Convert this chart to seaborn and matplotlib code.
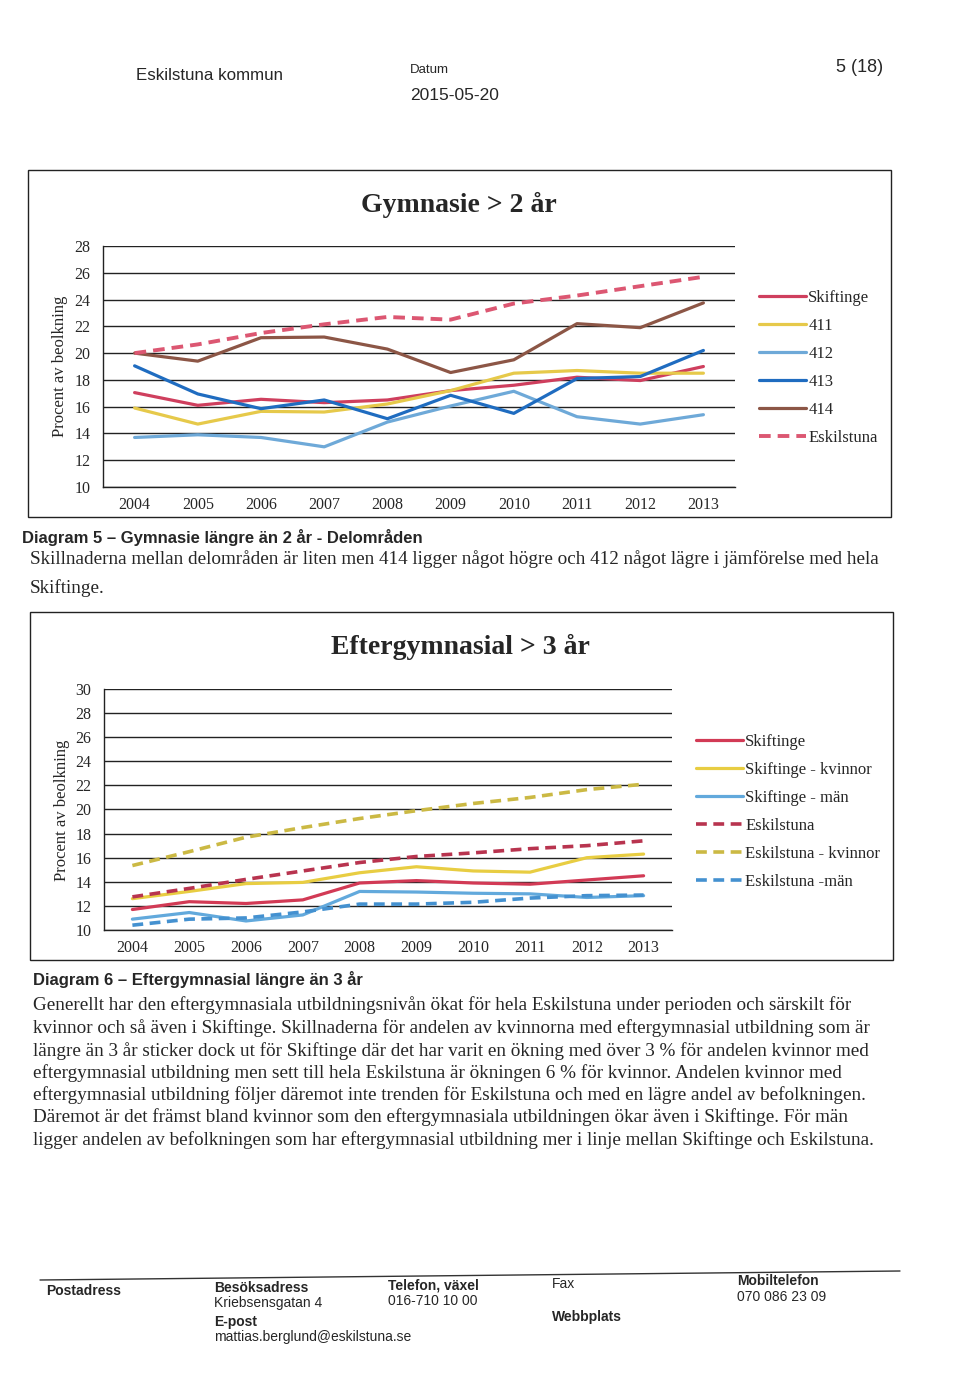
import numpy as np
import pandas as pd
import matplotlib
matplotlib.use("Agg")
import matplotlib.pyplot as plt
import seaborn as sns
from matplotlib import font_manager
from matplotlib.lines import Line2D
from matplotlib.patches import Rectangle

# Data
years = ["2004", "2005", "2006", "2007", "2008", "2009", "2010", "2011", "2012", "2013"]

# Diagram 5 - Gymnasie > 2 år
gy_skiftinge = [17.05, 16.1, 16.55, 16.3, 16.5, 17.2, 17.6, 18.2, 17.95, 19.0]
gy_411 = [15.9, 14.7, 15.65, 15.6, 16.2, 17.2, 18.5, 18.7, 18.5, 18.5]
gy_412 = [13.7, 13.9, 13.7, 13.0, 14.85, 16.05, 17.15, 15.25, 14.7, 15.4]
gy_413 = [19.05, 16.95, 15.85, 16.5, 15.1, 16.85, 15.5, 18.1, 18.25, 20.2]
gy_414 = [20.0, 19.4, 21.15, 21.2, 20.3, 18.55, 19.5, 22.2, 21.9, 23.75]
gy_eskilstuna = [20.0, 20.65, 21.5, 22.15, 22.7, 22.5, 23.7, 24.3, 25.0, 25.7]

# Diagram 6 - Eftergymnasial > 3 år
eg_skiftinge = [11.7, 12.35, 12.2, 12.5, 13.9, 14.1, 13.9, 13.8, 14.15, 14.5]
eg_skiftinge_kv = [12.6, 13.2, 13.85, 13.95, 14.75, 15.25, 14.9, 14.8, 16.0, 16.3]
eg_skiftinge_man = [10.9, 11.45, 10.75, 11.25, 13.2, 13.15, 13.05, 13.0, 12.7, 12.85]
eg_eskilstuna = [12.75, 13.45, 14.2, 14.9, 15.6, 16.1, 16.4, 16.75, 17.0, 17.4]
eg_eskilstuna_kv = [15.35, 16.5, 17.7, 18.5, 19.25, 19.9, 20.5, 21.0, 21.65, 22.1]
eg_eskilstuna_man = [10.4, 10.9, 11.0, 11.5, 12.15, 12.15, 12.3, 12.65, 12.85, 12.9]

sns.set_theme(style="white")
names = {f.name for f in font_manager.fontManager.ttflist}
SERIF = "Liberation Serif"
SANS = "Liberation Sans Narrow" if "Liberation Sans Narrow" in names else "Liberation Sans"
plt.rcParams["font.family"] = [SERIF, "DejaVu Serif"]

W, H = 960, 1384
fig = plt.figure(figsize=(9.6, 13.84), dpi=100)
fig.patch.set_facecolor("white")


def fx(x):
    return x / W


def fy(y):
    return 1 - y / H


def axes_px(left, top, right, bottom):
    return fig.add_axes([fx(left), fy(bottom), (right - left) / W, (bottom - top) / H])


def box(left, top, right, bottom):
    fig.patches.append(Rectangle((fx(left), fy(bottom)), (right - left) / W, (bottom - top) / H,
                                 transform=fig.transFigure, fill=False, edgecolor="#222222", lw=1.0))


def style_axes(ax, ymax):
    ax.set_xlim(-0.5, len(years) - 0.5)
    ax.set_ylim(10, ymax)
    ax.set_yticks(np.arange(10, ymax + 1, 2))
    ax.set_xticks(range(len(years)))
    ax.set_xticklabels(years)
    ax.yaxis.grid(True, color="#222222", lw=1.0)
    ax.xaxis.grid(False)
    for s in ["top", "right"]:
        ax.spines[s].set_visible(False)
    for s in ["left", "bottom"]:
        ax.spines[s].set_color("#222222")
        ax.spines[s].set_linewidth(1.0)
    ax.tick_params(axis="y", length=4, direction="out", color="#222222", pad=5, labelsize=11.5)
    ax.tick_params(axis="x", length=0, pad=7, labelsize=11.5)
    ax.set_xlabel("")
    ax.set_ylabel("")
    ax.set_facecolor("white")


def draw(ax, values, color, label, dashed=False, lw=2.3):
    x = np.arange(len(values))
    sns.lineplot(x=x, y=values, ax=ax, color=color, lw=lw, label=label,
                 linestyle=(0, (3, 1.8)) if dashed else "-")


def legend(ax, x, y):
    ax.legend(loc="upper left", bbox_to_anchor=(fx(x), fy(y)), bbox_transform=fig.transFigure,
              frameon=False, fontsize=12, handlelength=2.8, handletextpad=0.15, labelspacing=0.72,
              borderaxespad=0, borderpad=0)


# ---------- page header ----------
fig.text(fx(136), fy(75), "Eskilstuna kommun", family=SANS, fontsize=12.2, va="center")
fig.text(fx(410), fy(70), "Datum", family=SANS, fontsize=9.5, va="center")
fig.text(fx(410), fy(95), "2015-05-20", family=SANS, fontsize=12.5, va="center")
fig.text(fx(836), fy(67), "5 (18)", family=SANS, fontsize=13, va="center")

# ---------- diagram 5 ----------
box(28, 170, 891, 517)
fig.text(fx(459), fy(205), "Gymnasie > 2 år", fontsize=20, fontweight="bold", ha="center", va="center")
ax1 = axes_px(103, 246, 735, 487)
draw(ax1, gy_skiftinge, "#cf3f5e", "Skiftinge")
draw(ax1, gy_411, "#e6c94a", "411")
draw(ax1, gy_412, "#6ea9d8", "412")
draw(ax1, gy_413, "#1f6cc0", "413")
draw(ax1, gy_414, "#8c5646", "414")
draw(ax1, gy_eskilstuna, "#dc5772", "Eskilstuna", dashed=True, lw=2.8)
style_axes(ax1, 28)
fig.text(fx(60), fy(366), "Procent av beolkning", rotation=90, fontsize=12, ha="center", va="center")
legend(ax1, 759, 290)

fig.text(fx(22), fy(537), "Diagram 5 – Gymnasie längre än 2 år - Delområden", family=SANS,
         fontsize=12, fontweight="bold", va="center")
fig.text(fx(30), fy(559), "Skillnaderna mellan delområden är liten men 414 ligger något högre och 412 "
         "något lägre i jämförelse med hela", fontsize=13.8, va="center")
fig.text(fx(30), fy(588), "Skiftinge.", fontsize=13.8, va="center")

# ---------- diagram 6 ----------
box(30, 612, 893, 960)
fig.text(fx(460), fy(647), "Eftergymnasial > 3 år", fontsize=20, fontweight="bold", ha="center", va="center")
ax2 = axes_px(104, 689, 672, 930)
draw(ax2, eg_skiftinge, "#d23a55", "Skiftinge")
draw(ax2, eg_skiftinge_kv, "#e8cd42", "Skiftinge - kvinnor")
draw(ax2, eg_skiftinge_man, "#62a9dc", "Skiftinge - män")
draw(ax2, eg_eskilstuna, "#b8344f", "Eskilstuna", dashed=True, lw=2.6)
draw(ax2, eg_eskilstuna_kv, "#cbb944", "Eskilstuna - kvinnor", dashed=True, lw=2.6)
draw(ax2, eg_eskilstuna_man, "#4491d0", "Eskilstuna -män", dashed=True, lw=2.6)
style_axes(ax2, 30)
fig.text(fx(62), fy(810), "Procent av beolkning", rotation=90, fontsize=12, ha="center", va="center")
legend(ax2, 696, 734)

fig.text(fx(33), fy(980), "Diagram 6 – Eftergymnasial längre än 3 år", family=SANS,
         fontsize=12, fontweight="bold", va="center")

para = [
    "Generellt har den eftergymnasiala utbildningsnivån ökat för hela Eskilstuna under perioden och särskilt för",
    "kvinnor och så även i Skiftinge. Skillnaderna för andelen av kvinnorna med eftergymnasial utbildning som är",
    "längre än 3 år sticker dock ut för Skiftinge där det har varit en ökning med över 3 % för andelen kvinnor med",
    "eftergymnasial utbildning men sett till hela Eskilstuna är ökningen 6 % för kvinnor. Andelen kvinnor med",
    "eftergymnasial utbildning följer däremot inte trenden för Eskilstuna och med en lägre andel av befolkningen.",
    "Däremot är det främst bland kvinnor som den eftergymnasiala utbildningen ökar även i Skiftinge. För män",
    "ligger andelen av befolkningen som har eftergymnasial utbildning mer i linje mellan Skiftinge och Eskilstuna.",
]
para_y = [1005, 1028, 1051, 1073, 1095, 1117, 1140]
for line, y in zip(para, para_y):
    fig.text(fx(33), fy(y), line, fontsize=13.8, va="center")

# ---------- footer ----------
fig.lines.append(Line2D([fx(40), fx(900)], [fy(1280), fy(1271)], transform=fig.transFigure,
                        color="#333333", lw=1.0))
foot = [
    (46, 1291, "Postadress", "bold"),
    (214, 1288, "Besöksadress", "bold"),
    (214, 1303, "Kriebsensgatan 4", "normal"),
    (214, 1322, "E-post", "bold"),
    (214, 1337, "mattias.berglund@eskilstuna.se", "normal"),
    (388, 1285, "Telefon, växel", "bold"),
    (388, 1301, "016-710 10 00", "normal"),
    (552, 1284, "Fax", "normal"),
    (552, 1317, "Webbplats", "bold"),
    (737, 1281, "Mobiltelefon", "bold"),
    (737, 1297, "070 086 23 09", "normal"),
]
for x, y, t, w in foot:
    fig.text(fx(x), fy(y), t, family=SANS, fontsize=10, fontweight=w, va="center")

fig.savefig("out.png", dpi=100, facecolor="white")
